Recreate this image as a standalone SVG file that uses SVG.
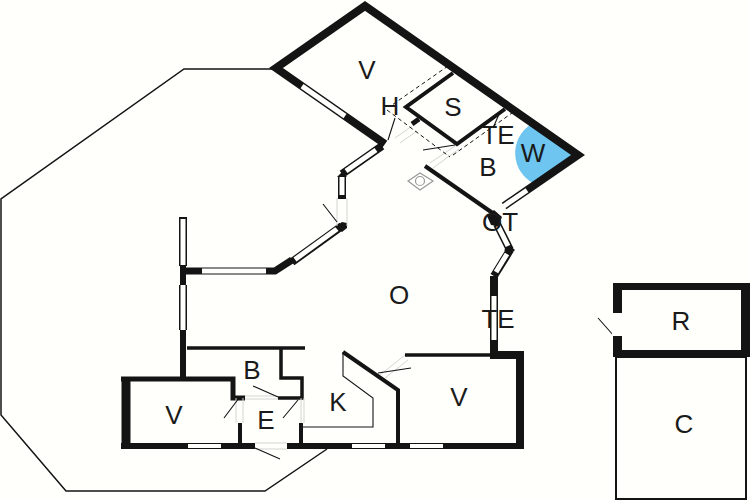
<svg xmlns="http://www.w3.org/2000/svg" width="750" height="500" viewBox="0 0 750 500">
<style>
.t{font-family:"Liberation Sans",Arial,sans-serif;font-size:26px;fill:#1a1a1a;text-anchor:middle}
.w{fill:none;stroke:#141414;stroke-linecap:butt;stroke-linejoin:miter}
.fr{fill:none;stroke:#141414;stroke-width:8}
.gl{fill:none;stroke:#fffffb;stroke-width:5}
.wg{fill:none;stroke:#fffffb;stroke-width:4}
.dr{fill:none;stroke:#fffffb;stroke-width:7}
.th{fill:none;stroke:#141414;stroke-width:1.100}
.dg{fill:none;stroke:#d4d4d0;stroke-width:1}
.da{fill:none;stroke:#141414;stroke-width:1;stroke-dasharray:4 3}
.bk{fill:#141414}
</style>
<rect width="750" height="500" fill="#fffffb"/>
<path fill="none" stroke="#141414" stroke-width="1.500" d="M272,69H184L1,199V415L66,491H265L327,449"/>
<path d="M530,125A34,34 0 0 0 533,183L576,155L548,136Z" fill="#6ec6f0"/>

<path class="w" stroke-width="8" d="M385,144L276,68L365,6L578,155L504,206"/>
<path class="w" stroke-width="4" d="M453,73L406,107L457,144L505,109"/>
<path class="w" stroke-width="4" d="M425,166L494,214"/>
<path class="w" stroke-width="5" d="M412,124L419,119"/>
<path class="gl" d="M302,86.100L345,116.100"/>
<path class="gl" d="M503,206.700L527,190.200"/>
<path class="fr" d="M497,224L510,250"/><path class="gl" d="M498,226L508,246"/>
<path class="fr" d="M510,250L494,276"/><path class="gl" d="M507,254L496,272"/>
<polygon class="bk" points="487,216 494,210 502,217 498,226 491,225"/>
<polygon class="bk" points="504,250 510,246 515,250 510,255"/>
<path class="fr" d="M382,146L342,174"/><path class="gl" d="M376,150L346,171"/>
<path class="fr" d="M342,176V199"/><path class="gl" d="M342,177V195"/>
<polygon class="bk" points="337,177 342,172 347,177"/>
<path class="fr" d="M342,226L292,262"/><path class="gl" d="M337,229L295,259.500"/>
<polygon class="bk" points="335,227 342,222 347,223 347,228 342,232"/>
<path class="w" stroke-width="7" d="M183,271H275L292,260"/>
<path class="gl" d="M202,271H266"/>
<path class="w" stroke-width="6" d="M183,265V285M183,330V380"/>
<path class="fr" d="M183,217V266M183,285V330"/><path class="gl" d="M183,219V265M183,285V330"/>
<path class="w" stroke-width="8" d="M494,276V296M494,339V356"/>
<path class="fr" d="M494,296V340"/><path class="gl" d="M494,296V340"/>

<path class="w" stroke-width="3.500" d="M405,355H520"/>
<path class="w" stroke-width="8" d="M490,355H520V445"/>
<path class="w" stroke-width="6" d="M121,446H524"/>
<path class="w" stroke-width="4" d="M398,446V390L343,352"/>
<path class="w" stroke-width="9" d="M126,446V379"/>
<path class="w" stroke-width="5" d="M121,379H233V398H245"/>
<path class="w" stroke-width="3.500" d="M187,348H305M281,348V378H302V398H278"/>
<path class="w" stroke-width="4" d="M240,423V446M301,423V446"/>
<path class="wg" d="M188,446H221M352,446H385M410,446H443"/>
<path class="dr" d="M255,446H287"/>

<path class="dg" d="M245,399H278M245,396H278M236,398V423M243,398V423M301,398V423M304,398V423M255,449H287M255,443H287M395,138L412,126M400,143L417,131M430,163L455,146M433,168L459,149M380,375L405,355M385,378L408,360"/>
<path class="dg" d="M337,226V198M347,226V198"/>
<path class="th" d="M343,352V376L373,398V427H303M395,118L388,140M423,150L455,145M500,112L493,128M378,373L411,368M337,222L323,204M239,398L224,418M298,400L283,418M253,386L278,397M255,448L280,459M614,336L598,318"/>
<path class="da" d="M448,66L392,105M387,110L450,157M453,155L512,113"/>
<path fill="none" stroke="#999" stroke-width="1.200" d="M408,181L420,173L433,181L420,190Z"/>
<circle cx="420" cy="181" r="4.500" fill="none" stroke="#999" stroke-width="1.200"/>

<path class="bk" fill-rule="evenodd" d="M613,283H750V357H613ZM622,290V350H741V290Z"/>
<rect x="612" y="313" width="10" height="23" fill="#fffffb"/>
<rect x="616" y="357" width="130" height="142" fill="none" stroke="#141414" stroke-width="2"/>

<text class="t" x="367" y="79">V</text>
<text class="t" x="390" y="115">H</text>
<text class="t" x="453" y="116">S</text>
<text class="t" x="498" y="144">TE</text>
<text class="t" x="533" y="162">W</text>
<text class="t" x="488" y="176">B</text>
<text class="t" x="500" y="231">OT</text>
<text class="t" x="399" y="304">O</text>
<text class="t" x="498" y="328">TE</text>
<text class="t" x="252" y="379">B</text>
<text class="t" x="266" y="429">E</text>
<text class="t" x="174" y="424">V</text>
<text class="t" x="338" y="411">K</text>
<text class="t" x="459" y="406">V</text>
<text class="t" x="681" y="330">R</text>
<text class="t" x="684" y="433">C</text>
</svg>
